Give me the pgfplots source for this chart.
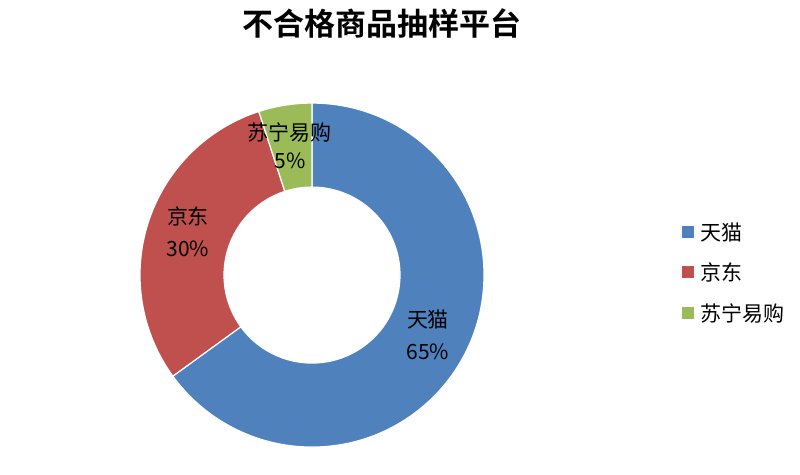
\documentclass[border=0pt]{standalone}
\usepackage{pgfplots}
\pgfplotsset{compat=1.18}
\usepackage{pgfplotstable}
\usepackage{fontspec}
\setmainfont{Noto Sans CJK SC}
\newfontfamily\titlefont{Noto Sans CJK SC Bold}

\definecolor{tmall}{HTML}{4F81BD}
\definecolor{jd}{HTML}{C0504D}
\definecolor{suning}{HTML}{9BBB59}

% share of unqualified goods by platform (%)
\pgfplotstableread{
platform value
天猫 65
京东 30
苏宁易购 5
}\piedata

\begin{document}
\begin{tikzpicture}
% 1 px of the reference = 0.5pt
\pgfplotstablegetelem{0}{value}\of\piedata \let\vA\pgfplotsretval
\pgfplotstablegetelem{1}{value}\of\piedata \let\vB\pgfplotsretval
\pgfplotstablegetelem{2}{value}\of\piedata \let\vC\pgfplotsretval
\pgfmathsetmacro\aA{90}
\pgfmathsetmacro\aB{\aA-3.6*\vA}
\pgfmathsetmacro\aC{\aB-3.6*\vB}
\pgfmathsetmacro\aD{\aC-3.6*\vC}
\def\R{86pt}\def\r{44pt}\def\Rd{-42pt}
\begin{axis}[
  scale only axis,
  width=400pt, height=237pt,
  xmin=0, xmax=800, ymin=0, ymax=474,
  hide axis, clip=false,
]
\path (axis cs:0,0) rectangle (axis cs:800,474);
\fill[tmall, draw=white, line width=0.6pt] (axis cs:312,199) ++(\aA:\R)
  arc[start angle=\aA, end angle=\aB, radius=\R] -- ++(\aB:\Rd)
  arc[start angle=\aB, end angle=\aA, radius=\r] -- cycle;
\fill[jd, draw=white, line width=0.6pt] (axis cs:312,199) ++(\aB:\R)
  arc[start angle=\aB, end angle=\aC, radius=\R] -- ++(\aC:\Rd)
  arc[start angle=\aC, end angle=\aB, radius=\r] -- cycle;
\fill[suning, draw=white, line width=0.6pt] (axis cs:312,199) ++(\aC:\R)
  arc[start angle=\aC, end angle=\aD, radius=\R] -- ++(\aD:\Rd)
  arc[start angle=\aD, end angle=\aC, radius=\r] -- cycle;
% slice labels
\node[font=\fontsize{10.5pt}{12pt}\selectfont, align=center, inner sep=0pt] at (axis cs:428,139) {天猫\\[4pt]65\%};
\node[font=\fontsize{10.5pt}{12pt}\selectfont, align=center, inner sep=0pt] at (axis cs:188,242) {京东\\[4pt]30\%};
\node[font=\fontsize{10.5pt}{12pt}\selectfont, align=center, inner sep=0pt] at (axis cs:290,328) {苏宁易购\\[2pt]5\%};
% title
\node[font=\titlefont\fontsize{15.5pt}{17pt}\selectfont] at (axis cs:382,451) {不合格商品抽样平台};
% legend
\fill[tmall] (axis cs:682,236) rectangle (axis cs:694,248);
\fill[jd] (axis cs:682,196) rectangle (axis cs:694,208);
\fill[suning] (axis cs:682,155) rectangle (axis cs:694,167);
\node[font=\fontsize{10.5pt}{12pt}\selectfont, anchor=west, inner sep=0pt] at (axis cs:700,242) {天猫};
\node[font=\fontsize{10.5pt}{12pt}\selectfont, anchor=west, inner sep=0pt] at (axis cs:700,202) {京东};
\node[font=\fontsize{10.5pt}{12pt}\selectfont, anchor=west, inner sep=0pt] at (axis cs:700,161) {苏宁易购};
\end{axis}
\end{tikzpicture}
\end{document}
